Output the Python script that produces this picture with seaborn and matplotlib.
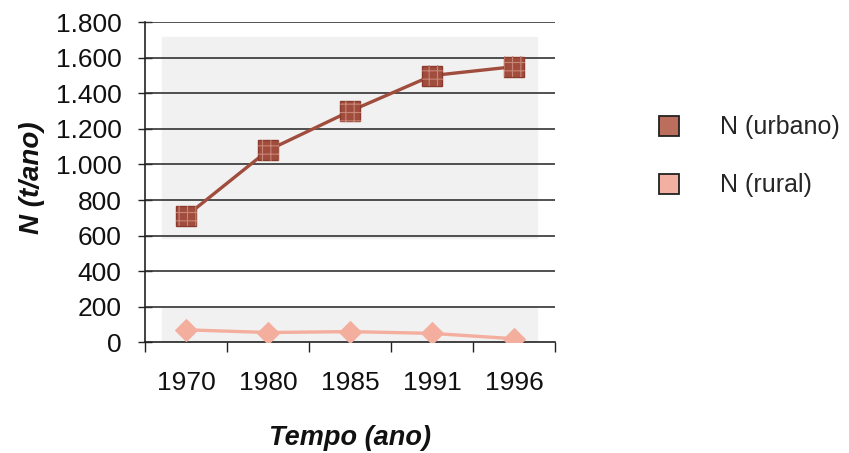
import numpy as np
import pandas as pd
import matplotlib
matplotlib.use("Agg")
import matplotlib.pyplot as plt
from matplotlib.ticker import FuncFormatter
from matplotlib.lines import Line2D
import seaborn as sns

# Nitrogen load per year by origin
anos = ["1970", "1980", "1985", "1991", "1996"]
n_urbano = [710, 1080, 1300, 1500, 1550]
n_rural = [70, 55, 60, 50, 20]
series = ["N (urbano)", "N (rural)"]

df = pd.DataFrame({
    "Tempo": anos * 2,
    "N": n_urbano + n_rural,
    "Serie": [series[0]] * len(anos) + [series[1]] * len(anos),
})

sns.set_theme(style="white")
plt.rcParams["font.family"] = ["Liberation Sans", "DejaVu Sans"]
plt.rcParams["hatch.linewidth"] = 0.8

cor_urbano = "#a04d3d"
cor_rural = "#f4ae9e"

fig = plt.figure(figsize=(8.49, 4.53), dpi=100)
ax = fig.add_axes([0.171, 0.2444, 0.483, 0.7066])

# soft grey panel behind the data
ax.axhspan(586, 1715, xmin=0.04, xmax=0.956, color="#f1f1f1", zorder=0)
ax.axhspan(0, 198, xmin=0.04, xmax=0.956, color="#f1f1f1", zorder=0)

for y in range(200, 1801, 200):
    ax.axhline(y, color="#333333", lw=1.2, zorder=1)

sns.lineplot(
    data=df, x="Tempo", y="N", hue="Serie", style="Serie",
    palette={series[0]: cor_urbano, series[1]: cor_rural},
    markers={series[0]: "s", series[1]: "D"}, dashes=False,
    markersize=13, linewidth=2.4, ax=ax, legend=False, zorder=3,
)
for ln in ax.get_lines():
    if ln.get_color() == cor_urbano:
        ln.set_markeredgecolor("#8a3b2d")
        ln.set_markeredgewidth(1.0)
        ln.set_markersize(15)
    elif ln.get_color() == cor_rural:
        ln.set_markeredgecolor(cor_rural)
        ln.set_markersize(11)

# cross-hatched texture on the urban markers
ax.scatter(anos, n_urbano, marker="s", s=15 ** 2, facecolor="none",
           edgecolor="#c98676", linewidth=0, hatch="++", zorder=4)

ax.set_xlim(-0.5, len(anos) - 0.5)
ax.set_ylim(0, 1800)
ax.set_yticks(range(0, 1801, 200))
ax.yaxis.set_major_formatter(FuncFormatter(lambda v, p: f"{int(v):,}".replace(",", ".")))
ax.set_xticks(range(len(anos)))
ax.set_xticklabels(anos)
ax.set_xticks(np.arange(-0.5, len(anos), 1.0), minor=True)

ax.tick_params(axis="x", which="major", length=0, labelsize=19, pad=21, colors="#111111")
ax.tick_params(axis="x", which="minor", direction="out", length=7, width=1, color="#222222", bottom=True)
ax.tick_params(axis="y", which="major", direction="inout", length=10, width=1,
               color="#222222", labelsize=19, pad=12, left=True, labelcolor="#111111")

for s in ["top", "right"]:
    ax.spines[s].set_visible(False)
for s in ["left", "bottom"]:
    ax.spines[s].set_color("#222222")
    ax.spines[s].set_linewidth(1.2)

ax.set_xlabel("Tempo (ano)", fontsize=19.5, fontweight="bold", fontstyle="italic", color="#111111")
ax.set_ylabel("N (t/ano)", fontsize=20, fontweight="bold", fontstyle="italic", color="#111111")
ax.xaxis.set_label_coords(0.5, -0.258)
ax.yaxis.set_label_coords(-0.244, 0.513)

handles = [
    Line2D([], [], marker="s", linestyle="none", markersize=14,
           markerfacecolor="#bb6e5c", markeredgecolor="#222222", markeredgewidth=1.3),
    Line2D([], [], marker="s", linestyle="none", markersize=14,
           markerfacecolor="#f2b0a2", markeredgecolor="#222222", markeredgewidth=1.3),
]
fig.legend(handles, series, loc="center left", bbox_to_anchor=(0.747, 0.655),
           frameon=False, fontsize=18, handletextpad=1.55, labelspacing=1.36,
           handlelength=1.0)

fig.savefig("out.png", dpi=100, facecolor="white")
